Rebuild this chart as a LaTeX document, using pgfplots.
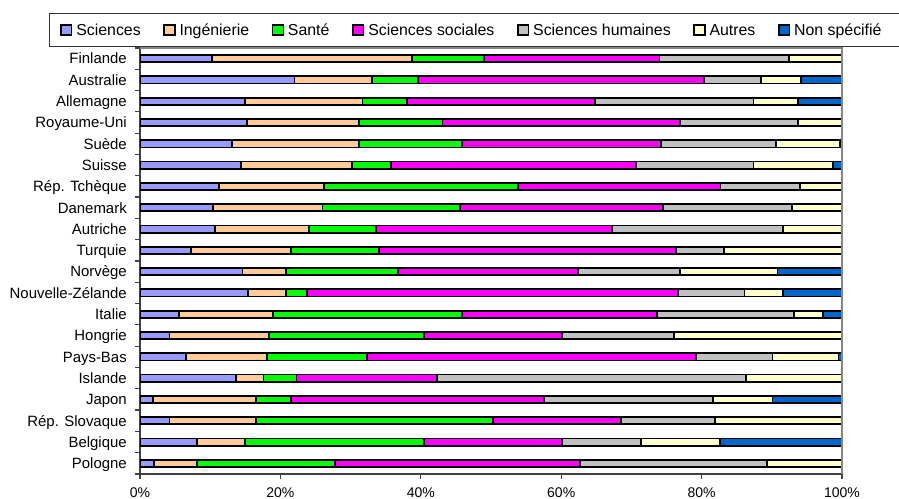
\documentclass[border=0pt]{standalone}
\usepackage{pgfplots}
\pgfplotsset{compat=1.18}
\usepackage{pgfplotstable}
\usepackage{fontspec}
\setmainfont{Liberation Sans}

\definecolor{cSci}{HTML}{9999FF}
\definecolor{cIng}{HTML}{FFCC99}
\definecolor{cSan}{HTML}{00FF00}
\definecolor{cSoc}{HTML}{FF00FF}
\definecolor{cHum}{HTML}{C0C0C0}
\definecolor{cAut}{HTML}{FFFFCC}
\definecolor{cNon}{HTML}{0066CC}
\definecolor{axisdark}{HTML}{404040}
\definecolor{framegray}{HTML}{868686}

% Share of graduates by field of study (%), one row per country;
% idx 19 is the top bar, idx 0 the bottom one.
\pgfplotstableread{
idx sci  ing  sante soc  hum  autres ns
19  10.3 28.5 10.2  25.0 18.4 7.6    0
18  22.0 11.0 6.6   40.7 8.2  5.7    5.8
17  15.0 16.7 6.3   26.8 22.6 6.3    6.3
16  15.2 16.0 11.9  33.8 16.8 6.3    0
15  13.1 18.1 14.7  28.3 16.4 9.1    0.3
14  14.4 15.8 5.6   34.8 16.8 11.3   1.3
13  11.3 14.9 27.6  28.9 11.3 6.0    0
12  10.4 15.6 19.6  28.9 18.4 7.1    0
11  10.7 13.4 9.5   33.6 24.4 8.4    0
10  7.3  14.2 12.6  42.3 6.8  16.8   0
9   14.6 6.2  16.0  25.6 14.5 13.9   9.2
8   15.4 5.4  3.0   52.8 9.5  5.5    8.4
7   5.5  13.4 27.0  27.8 19.5 4.1    2.7
6   4.2  14.2 22.0  19.7 16.0 23.9   0
5   6.5  11.6 14.2  46.9 10.9 9.4    0.5
4   13.7 3.9  4.7   20.0 44.0 13.7   0
3   1.8  14.7 5.0   36.0 24.1 8.5    9.9
2   4.2  12.3 33.8  18.2 13.4 18.1   0
1   8.1  6.9  25.4  19.7 11.3 11.2   17.4
0   2.0  6.1  19.7  34.9 26.6 10.7   0
}\parts

\pgfplotsset{
  seg/.style={
    fill=#1, draw=black, line width=1.35pt,
    legend image code/.code={
      \draw[fill=#1, draw=black, line width=1.1pt] (0pt,-3.7pt) rectangle (8pt,3.7pt);
    }
  }
}

\begin{document}
\begin{tikzpicture}
\useasboundingbox (0,0) rectangle (674.25pt,374.25pt);
\begin{axis}[
  at={(105pt,18.75pt)}, anchor=south west,
  scale only axis, width=526.5pt, height=319.5pt,
  xbar stacked, bar width=5.4pt,
  xmin=0, xmax=100, ymin=-0.5, ymax=19.5,
  axis x line*=bottom, axis y line*=left,
  axis line style={draw=axisdark, line width=0.9pt},
  xtick={0,20,...,100},
  xticklabels={0\%,20\%,40\%,60\%,80\%,100\%},
  ytick={0,...,19},
  yticklabels={Pologne,Belgique,Rép. Slovaque,Japon,Islande,Pays-Bas,Hongrie,Italie,Nouvelle-Zélande,Norvège,Turquie,Autriche,Danemark,Rép. Tchèque,Suisse,Suède,Royaume-Uni,Allemagne,Australie,Finlande},
  minor ytick={-0.5,0.5,...,19.5},
  tick align=outside,
  major tick length=3.75pt, minor tick length=3.75pt,
  tick style={draw=axisdark, line width=0.9pt},
  major y tick style={draw=none},
  yticklabel style={font=\fontsize{11.2}{13}\selectfont, inner sep=0pt,
    text height=8pt, text depth=0pt, xshift=-6pt},
  xticklabel style={font=\fontsize{10.5}{12}\selectfont, inner sep=0pt,
    text height=7.5pt, text depth=0pt, yshift=-6.5pt},
  legend columns=7,
  legend cell align=left,
  legend style={
    at={(axis description cs:-0.1296,1.0822)}, anchor=north west,
    draw=black!80, line width=0.75pt, fill=white,
    inner xsep=8pt, inner ysep=6.5pt,
    font=\fontsize{11.9}{14}\selectfont,
    nodes={inner sep=1.5pt, text height=8.7pt, text depth=0pt},
    /tikz/every odd column/.append style={column sep=1.5pt},
    /tikz/every even column/.append style={column sep=15.5pt},
  },
  after end axis/.code={
    \draw[framegray, line width=1.2pt]
      (axis description cs:0,1) -- (axis description cs:1,1) -- (axis description cs:1,0);
  },
]
\addplot+[seg=cSci] table[x=sci, y=idx] {\parts};
\addplot+[seg=cIng] table[x=ing, y=idx] {\parts};
\addplot+[seg=cSan] table[x=sante, y=idx] {\parts};
\addplot+[seg=cSoc] table[x=soc, y=idx] {\parts};
\addplot+[seg=cHum] table[x=hum, y=idx] {\parts};
\addplot+[seg=cAut] table[x=autres, y=idx] {\parts};
\addplot+[seg=cNon] table[x=ns, y=idx] {\parts};
\legend{Sciences,Ingénierie,Santé,Sciences sociales,Sciences humaines,Autres,Non spécifié\rule{8pt}{0pt}}
\end{axis}
\end{tikzpicture}
\end{document}
